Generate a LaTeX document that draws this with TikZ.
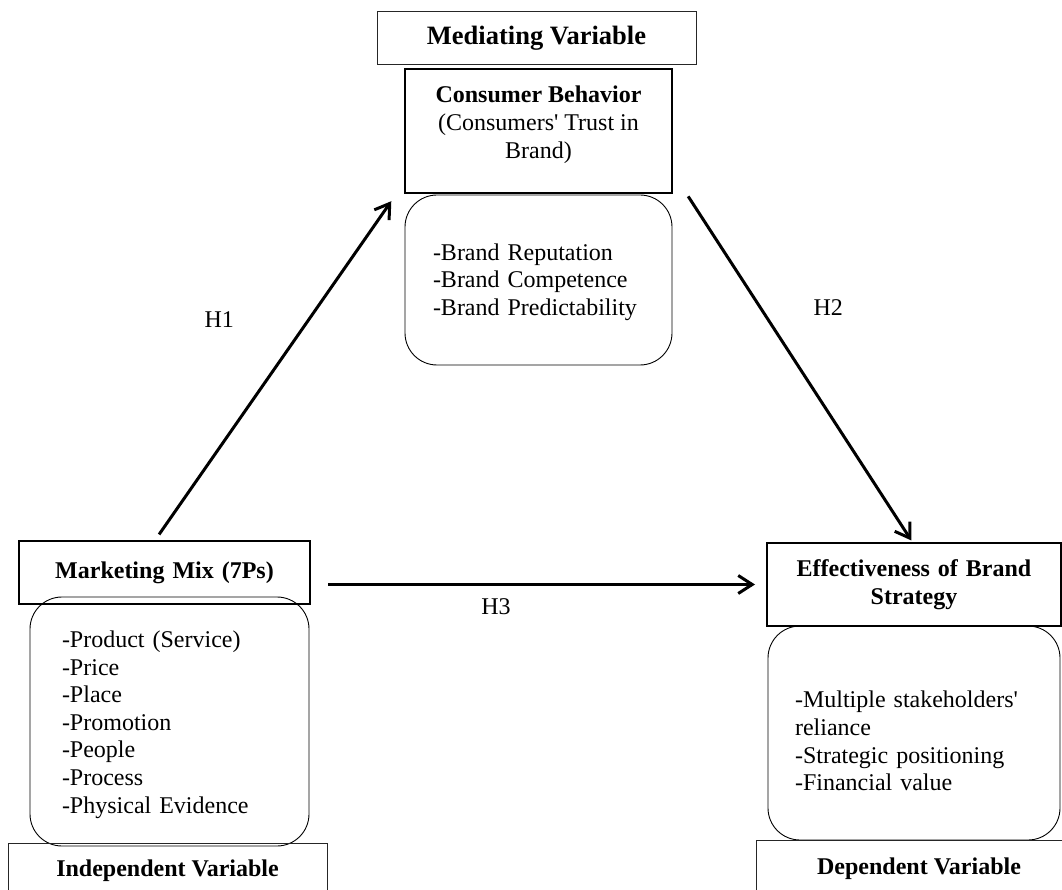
\documentclass[tikz,border=0pt]{standalone}
\usepackage{fontspec}
\setmainfont{Liberation Serif}
\usetikzlibrary{arrows.meta, positioning}

\newcommand{\diagsize}{\fontsize{24}{27.6}\selectfont}
\tikzset{
  capbox/.style={draw=black!85, line width=1pt, inner sep=0pt, outer sep=0pt, font=\diagsize\bfseries},
  headbox/.style={draw, line width=2.2pt, inner sep=0pt, outer sep=0pt, font=\diagsize\bfseries, align=center},
  listbox/.style={draw, line width=0.9pt, rounded corners=32pt, outer sep=0pt, inner ysep=0pt, font=\diagsize, align=left},
  listtext/.style={inner sep=0pt, font=\diagsize, align=left},
  link/.style={line width=3pt, -{Straight Barb[length=14pt,width=18pt]}},
  hyplabel/.style={inner sep=0pt, font=\diagsize}
}

\begin{document}
\begin{tikzpicture}[x=1pt,y=-1pt]
\useasboundingbox (0,0) rectangle (1062,890);
\clip (0,0) rectangle (1062,890);

% mediating variable
\node[capbox, font=\fontsize{26.5}{30}\selectfont\bfseries, minimum width=319pt, minimum height=53pt] (medlab) at (536.5,38.5) {Mediating Variable};
\node[headbox, minimum width=267pt, minimum height=124pt] (cb) at (538.5,131) {};
\node[below=17pt of cb.north, align=center, inner sep=0pt, font=\diagsize] (cbtext) {\textbf{Consumer Behavior}\\(Consumers\textquotesingle{} Trust in\\Brand)};
\node[listbox, minimum width=267pt, minimum height=170pt] (cblist) at (538.5,280) {};
\node[listtext, text width=211pt] (cbitems) at ([yshift=-2pt]cblist.center) {-Brand Reputation\\-Brand Competence\\-Brand Predictability};

% independent variable
\node[headbox, minimum width=291pt, minimum height=63pt, text width=280pt] (mm) at (164.5,572.5) {Marketing Mix (7Ps)};
\node[listbox, minimum width=279pt, minimum height=249pt] (mmlist) at (169.5,721.5) {};
\node[listtext, text width=215pt] (mmitems) at ([yshift=-3pt]mmlist.center) {-Product (Service)\\-Price\\-Place\\-Promotion\\-People\\-Process\\-Physical Evidence};
\node[capbox, minimum width=319pt, minimum height=55pt] (indlab) at (167.5,870.5) {Independent Variable};

% dependent variable
\node[headbox, minimum width=294pt, minimum height=83pt, text width=280pt] (eff) at (914,584.5) {Effectiveness of Brand\\Strategy};
\node[listbox, minimum width=292pt, minimum height=214pt] (efflist) at (914,733) {};
\node[listtext, text width=238pt] (effitems) at ([yshift=-8pt]efflist.center) {-Multiple stakeholders\textquotesingle\\reliance\\-Strategic positioning\\-Financial value};
\node[capbox, minimum width=326pt, minimum height=58pt] (deplab) at (919,869) {Dependent Variable};

% hypotheses
\draw[link, shorten <=8pt, shorten >=10pt] ([xshift=-10pt]mm.north) -- ([xshift=-8pt]cb.south west)
  node[hyplabel, pos=0.635, left=73pt] (h1) {H1};
\draw[link, shorten <=4pt, shorten >=3pt] ([xshift=14pt]cb.south east) -- ([xshift=-1pt]eff.north)
  node[hyplabel, pos=0.326, right=52pt] (h2) {H2};
\draw[link, shorten <=18pt, shorten >=12pt] (mm.east |- eff.west) -- (eff.west)
  node[hyplabel, pos=0.407, below=13pt] (h3) {H3};
\end{tikzpicture}
\end{document}
